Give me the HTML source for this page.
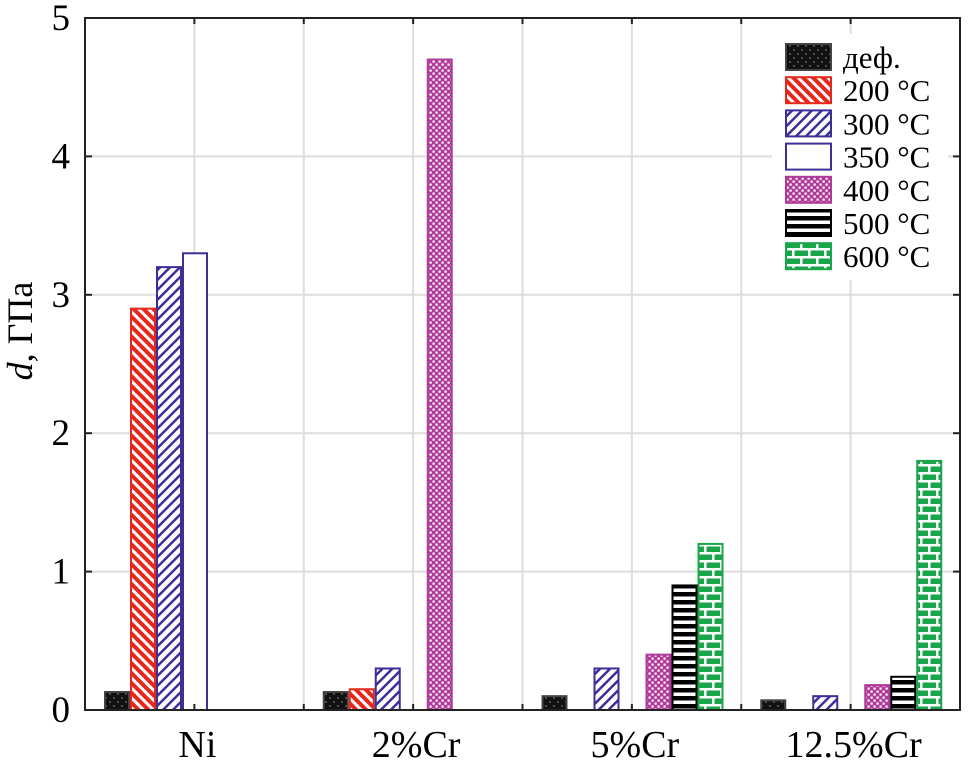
<!DOCTYPE html>
<html><head><meta charset="utf-8"><style>
html,body{margin:0;padding:0;background:#fff;}
svg{display:block;}
text{font-family:"Liberation Serif",serif;fill:#000;}
</style></head><body>
<svg id="chart" width="968" height="765" viewBox="0 0 968 765">
<defs>
<pattern id="p0" width="8" height="8" patternUnits="userSpaceOnUse"><rect width="8" height="8" fill="#111"/><circle cx="2" cy="2" r="0.9" fill="#777"/><circle cx="6" cy="6" r="0.9" fill="#777"/></pattern>
<pattern id="p1" width="7" height="7" patternUnits="userSpaceOnUse" patternTransform="rotate(-45)"><rect width="7" height="7" fill="#fff"/><rect width="4" height="7" fill="#e8271c"/></pattern>
<pattern id="p2" width="7" height="7" patternUnits="userSpaceOnUse" patternTransform="rotate(45)"><rect width="7" height="7" fill="#fff"/><rect width="2.5" height="7" fill="#3c2f98"/></pattern>
<pattern id="p3" width="8" height="8" patternUnits="userSpaceOnUse"><rect width="8" height="8" fill="#fff"/></pattern>
<pattern id="p4" width="6" height="6" patternUnits="userSpaceOnUse"><rect width="6" height="6" fill="#b03a9a"/><rect x="0.5" y="0.5" width="2.2" height="2.2" fill="#fff"/><rect x="3.5" y="3.5" width="2.2" height="2.2" fill="#fff"/></pattern>
<pattern id="p5" width="8" height="8" patternUnits="userSpaceOnUse"><rect width="8" height="8" fill="#fff"/><rect width="8" height="4.5" fill="#000"/></pattern>
<pattern id="p6" width="16" height="16" patternUnits="userSpaceOnUse"><rect width="16" height="16" fill="#19a54a"/><rect y="0" width="16" height="2.5" fill="#fff"/><rect y="8" width="16" height="2.5" fill="#fff"/><rect x="0" y="0" width="2.5" height="8" fill="#fff"/><rect x="8" y="8" width="2.5" height="8" fill="#fff"/></pattern>
</defs>
<g id="grid"></g>
<g id="bars"></g>
<g id="axes"></g>
<g id="legend"></g>
<text transform="translate(32,331) rotate(-90)" text-anchor="middle" font-size="36"><tspan font-style="italic">d</tspan>, ГПа</text>
</svg>
<script>
const categories = ["Ni", "2%Cr", "5%Cr", "12.5%Cr"];
const seriesNames = ["деф.", "200 °C", "300 °C", "350 °C", "400 °C", "500 °C", "600 °C"];
const sDef = [0.13, 0.13, 0.10, 0.07];
const s200 = [2.9, 0.15, 0, 0];
const s300 = [3.2, 0.3, 0.3, 0.1];
const s350 = [3.3, 0, 0, 0];
const s400 = [0, 4.7, 0.4, 0.18];
const s500 = [0, 0, 0.9, 0.24];
const s600 = [0, 0, 1.2, 1.8];
const yTicks = [0, 1, 2, 3, 4, 5];

const series = [sDef, s200, s300, s350, s400, s500, s600];
const fills = ["url(#p0)","url(#p1)","url(#p2)","url(#p3)","url(#p4)","url(#p5)","url(#p6)"];
const strokes = ["#444","#e8271c","#3c2f98","#3c2f98","#b03a9a","#000","#19a54a"];
const NS = "http://www.w3.org/2000/svg";
const L = 85, R = 960, T = 18, B = 710, yMax = 5;
const groupW = (R - L) / categories.length;
const slotW = 26;
const y = v => B - (v / yMax) * (B - T);
const xGroup = i => L + groupW * i;
const xBar = (i, s) => xGroup(i) + 19 + s * slotW;
function mk(tag, attrs, parent) { const e = document.createElementNS(NS, tag); for (const k in attrs) e.setAttribute(k, attrs[k]); parent.appendChild(e); return e; }
const grid = document.getElementById("grid"), bars = document.getElementById("bars"), axes = document.getElementById("axes"), legend = document.getElementById("legend");
for (let k = 1; k < categories.length * 2; k++) {
  const gx = L + groupW / 2 * k;
  const g = mk("line", {x1: gx, x2: gx, y1: T, y2: B, stroke: "#ddd", "stroke-width": 2}, grid);
  
  
  const tk = mk("line", {x1: gx, x2: gx, y1: B, y2: B - 6, stroke: "#222", "stroke-width": 2}, axes);
  
  
  const tk2 = mk("line", {x1: gx, x2: gx, y1: T, y2: T + 6, stroke: "#222", "stroke-width": 2}, axes);
  
  
}
yTicks.forEach(v => {
  if (v > 0 && v < yMax) {
    const g = mk("line", {x1: L, x2: R, y1: y(v), y2: y(v), stroke: "#ddd", "stroke-width": 2}, grid);
    
    
  }
  const tk = mk("line", {x1: L, x2: L + 7, y1: y(v), y2: y(v), stroke: "#222", "stroke-width": 2}, axes);
  
  
  const tk2 = mk("line", {x1: R, x2: R - 7, y1: y(v), y2: y(v), stroke: "#222", "stroke-width": 2}, axes);
  
  
  const t = mk("text", {x: 70, y: y(v) + 12, "text-anchor": "end", "font-size": 37}, axes);
  t.textContent = v;
  
  
});
categories.forEach((c, i) => {
  series.forEach((arr, s) => {
    const v = arr[i];
    if (!v) return;
    const r = mk("rect", {x: xBar(i, s) + 1, y: y(v), width: slotW - 2, height: B - y(v), fill: fills[s], stroke: strokes[s], "stroke-width": 2}, bars);
    
    
  });
  const t = mk("text", {x: xGroup(i) + groupW / 2 + 3, y: 757, "text-anchor": "middle", "font-size": 38}, axes);
  t.textContent = c;
  
  
});
const fr = mk("rect", {x: L, y: T, width: R - L, height: B - T, fill: "none", stroke: "#222", "stroke-width": 2}, axes);


const lg = mk("rect", {x: 772, y: 34, width: 176, height: 246, fill: "#fff"}, legend);


seriesNames.forEach((n, s) => {
  const ly = 44 + s * 33.2;
  const b = mk("rect", {x: 786, y: ly, width: 45, height: 26, fill: fills[s], stroke: strokes[s], "stroke-width": 2}, legend);
  
  
  const t = mk("text", {x: 843, y: ly + 24, "font-size": 31}, legend);
  t.textContent = n;
  
  
});
</script>
</body></html>
